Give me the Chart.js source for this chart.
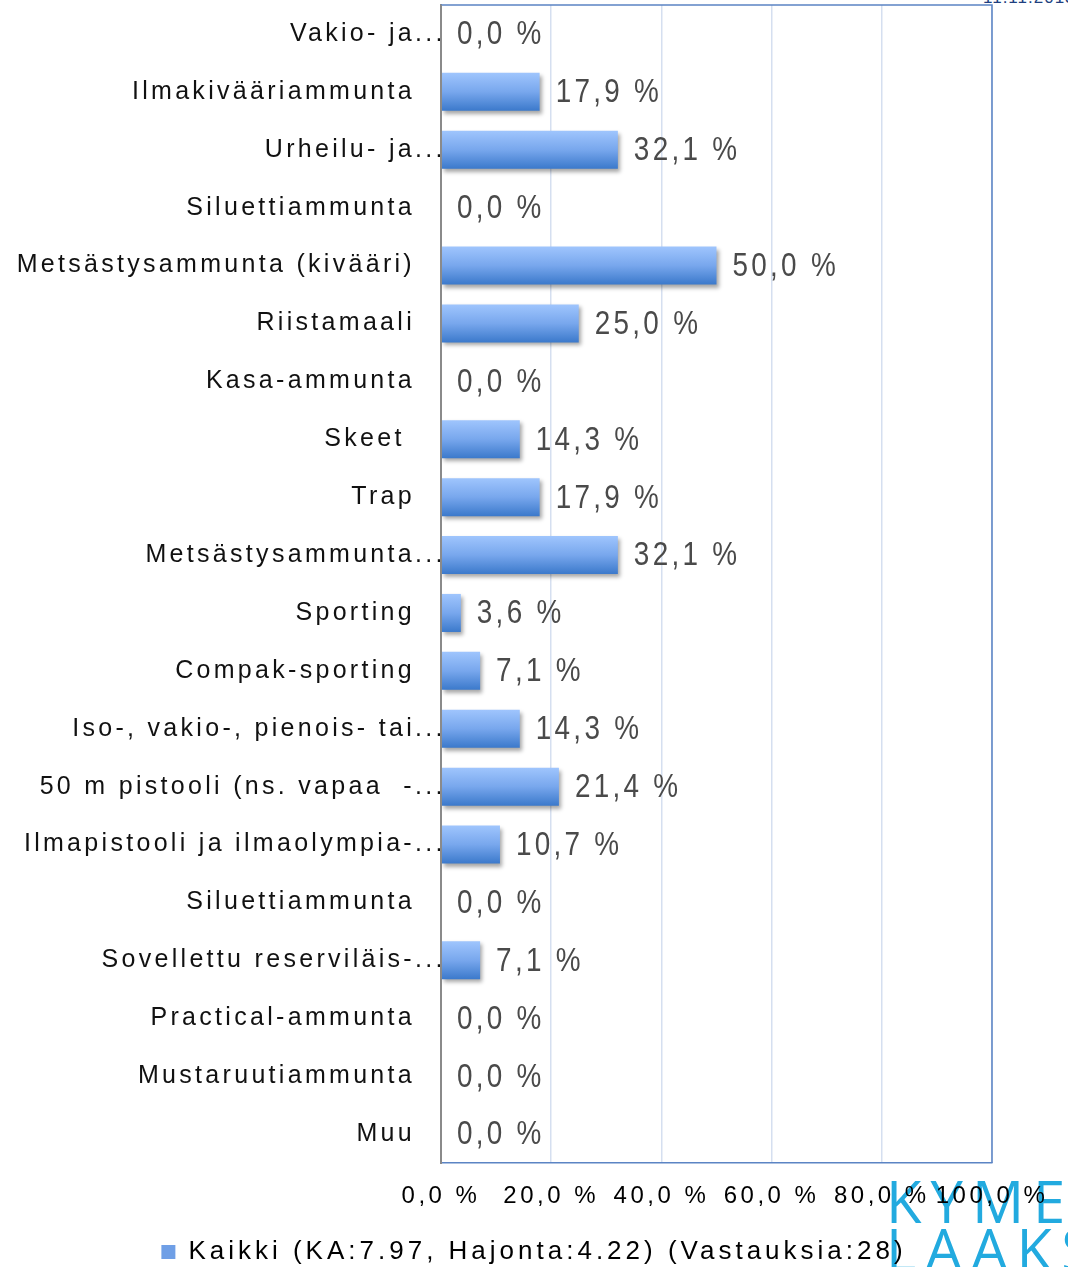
<!DOCTYPE html>
<html>
<head>
<meta charset="utf-8">
<script src="https://cdn.jsdelivr.net/npm/chart.js@4/dist/chart.umd.min.js"></script>
<style>
  body { margin: 0; background: #fff; }
  #wrap { position: relative; width: 1068px; height: 1267px; overflow: hidden; }
  #myChart { position: absolute; left: 0; top: 0; z-index: 2; }
  .logo { position: absolute; font-family: "Open Sans", sans-serif; font-weight: 400; color: #22aadf; font-size: 58px; letter-spacing: 9px; line-height: 1; z-index: 1; }
  #date { position: absolute; left: 983px; top: -12px; font-family: "Liberation Sans", sans-serif; font-size: 17px; color: #203f80; letter-spacing: 1px; z-index: 1; }
</style>
</head>
<body>
<div id="wrap">
  <div id="date">11.11.2013</div>
  <div class="logo" style="left:886px; top:1172px;">KYME</div>
  <div class="logo" style="left:886px; top:1220px;">LAAKSO</div>
  <canvas id="myChart" width="1068" height="1267"></canvas>
</div>
<script>
const categories = [
  "Vakio- ja...",
  "Ilmakivääriammunta",
  "Urheilu- ja...",
  "Siluettiammunta",
  "Metsästysammunta (kivääri)",
  "Riistamaali",
  "Kasa-ammunta",
  "Skeet ",
  "Trap",
  "Metsästysammunta...",
  "Sporting",
  "Compak-sporting",
  "Iso-, vakio-, pienois- tai...",
  "50 m pistooli (ns. vapaa  -...",
  "Ilmapistooli ja ilmaolympia-...",
  "Siluettiammunta",
  "Sovellettu reserviläis-...",
  "Practical-ammunta",
  "Mustaruutiammunta",
  "Muu"
];
const percentages = [0, 17.9, 32.1, 0, 50.0, 25.0, 0, 14.3, 17.9, 32.1, 3.6, 7.1, 14.3, 21.4, 10.7, 0, 7.1, 0, 0, 0];
const xTicks = [0, 20, 40, 60, 80, 100];
const seriesName = "Kaikki (KA:7.97, Hajonta:4.22) (Vastauksia:28)";

function fmt(v) {
  return v.toFixed(1).replace(".", ",") + " %";
}

function barGradient(context) {
  const chart = context.chart;
  const yScale = chart.scales.y;
  if (!yScale || context.dataIndex === undefined) return "#6a9be2";
  const yc = yScale.getPixelForValue(context.dataIndex);
  const g = chart.ctx.createLinearGradient(0, yc - 19, 0, yc + 19);
  g.addColorStop(0, "#9fc5fd");
  g.addColorStop(0.5, "#78a7ed");
  g.addColorStop(1, "#3b79cb");
  return g;
}

// run a draw function with its own letter spacing
function withSpacing(obj, fnName, spacing) {
  if (!obj || obj["_spaced_" + fnName]) return;
  const orig = obj[fnName];
  obj[fnName] = function (...args) {
    const c = this.ctx;
    c.save();
    c.letterSpacing = spacing;
    const r = orig.apply(this, args);
    c.restore();
    return r;
  };
  obj["_spaced_" + fnName] = true;
}

const stylePlugin = {
  id: "stylePlugin",
  beforeUpdate(chart) {
    chart.ctx.letterSpacing = "4px";
  },
  afterLayout(chart) {
    withSpacing(chart.scales.x, "drawLabels", "3.5px");
    withSpacing(chart.legend, "draw", "4px");
  },
  beforeDraw(chart) {
    chart.ctx.letterSpacing = "0px";
  },
  beforeDatasetsDraw(chart) {
    const ctx = chart.ctx;
    ctx.save();
    ctx.shadowColor = "rgba(0,0,0,0.35)";
    ctx.shadowBlur = 4;
    ctx.shadowOffsetX = 2;
    ctx.shadowOffsetY = 3;
  },
  afterDatasetsDraw(chart) {
    const ctx = chart.ctx;
    ctx.restore();
    const a = chart.chartArea;
    const yScale = chart.scales.y;

    // value labels
    const meta = chart.getDatasetMeta(0);
    ctx.save();
    ctx.letterSpacing = "4px";
    ctx.font = "34px 'Liberation Sans', sans-serif";
    ctx.fillStyle = "#4a4a4a";
    ctx.textAlign = "left";
    ctx.textBaseline = "middle";
    meta.data.forEach((bar, i) => {
      ctx.save();
      ctx.translate(bar.x + 16, bar.y + 1);
      ctx.scale(0.82, 1);
      ctx.fillText(fmt(percentages[i]), 0, 0);
      ctx.restore();
    });
    ctx.restore();

    // category labels; a cut label lets its "..." run past the right edge
    ctx.save();
    ctx.letterSpacing = "3.3px";
    ctx.font = "25px 'Liberation Sans', sans-serif";
    ctx.fillStyle = "#111";
    ctx.textBaseline = "middle";
    const rightX = a.left - 26;
    categories.forEach((label, i) => {
      const y = yScale.getPixelForTick(i);
      if (label.endsWith("...")) {
        ctx.textAlign = "right";
        ctx.fillText(label.slice(0, -3), rightX, y);
        ctx.textAlign = "left";
        ctx.fillText("...", rightX, y);
      } else {
        ctx.textAlign = "right";
        ctx.fillText(label, rightX, y);
      }
    });
    ctx.restore();

    // frame
    ctx.save();
    ctx.strokeStyle = "#5b84c4";
    ctx.lineWidth = 1.5;
    ctx.beginPath();
    ctx.moveTo(a.left, a.top);
    ctx.lineTo(a.right, a.top);
    ctx.lineTo(a.right, a.bottom);
    ctx.stroke();
    ctx.strokeStyle = "#8a8a8a";
    ctx.lineWidth = 2;
    ctx.beginPath();
    ctx.moveTo(a.left, a.top);
    ctx.lineTo(a.left, a.bottom);
    ctx.stroke();
    ctx.restore();
  }
};

const ctx = document.getElementById("myChart").getContext("2d");
const myChart = new Chart(ctx, {
  type: "bar",
  data: {
    labels: categories,
    datasets: [
      {
        label: seriesName,
        data: percentages,
        backgroundColor: barGradient,
        borderWidth: 0,
        barPercentage: 0.657,
        categoryPercentage: 1.0,
      },
    ],
  },
  options: {
    indexAxis: "y",
    responsive: false,
    animation: false,
    devicePixelRatio: 1,
    layout: {
      padding: { top: 5, right: 0, left: 0, bottom: -8 },
    },
    scales: {
      x: {
        min: 0,
        max: 100,
        afterBuildTicks: (scale) => {
          scale.ticks = xTicks.map((v) => ({ value: v }));
        },
        afterFit: (scale) => {
          scale.height = 72;
          scale.paddingRight = 76;
          scale.paddingLeft = 0;
        },
        ticks: {
          padding: 19,
          color: "#000",
          font: { family: "'Liberation Sans', sans-serif", size: 24 },
          callback: (v) => fmt(v),
          maxRotation: 0,
          autoSkip: false,
        },
        grid: {
          color: (c) => (c.index === 0 ? "rgba(0,0,0,0)" : "#d5dff0"),
          lineWidth: 1.5,
          drawTicks: false,
        },
        border: { display: true, color: "#5b84c4", width: 1.5 },
      },
      y: {
        afterFit: (scale) => {
          scale.width = 441;
          scale.paddingTop = 0;
          scale.paddingBottom = 0;
        },
        ticks: { display: false, autoSkip: false },
        grid: { display: false, drawTicks: false },
        border: { display: true, color: "#8a8a8a", width: 2 },
      },
    },
    plugins: {
      legend: {
        position: "bottom",
        labels: {
          boxWidth: 14,
          boxHeight: 14,
          padding: 4,
          color: "#333",
          font: { family: "'Liberation Sans', sans-serif", size: 26 },
          generateLabels: (chart) => [
            {
              text: seriesName,
              fillStyle: "#6f9fe6",
              strokeStyle: "#6f9fe6",
              lineWidth: 0,
              datasetIndex: 0,
            },
          ],
        },
      },
      tooltip: { enabled: false },
    },
  },
  plugins: [stylePlugin],
});
</script>
</body>
</html>
